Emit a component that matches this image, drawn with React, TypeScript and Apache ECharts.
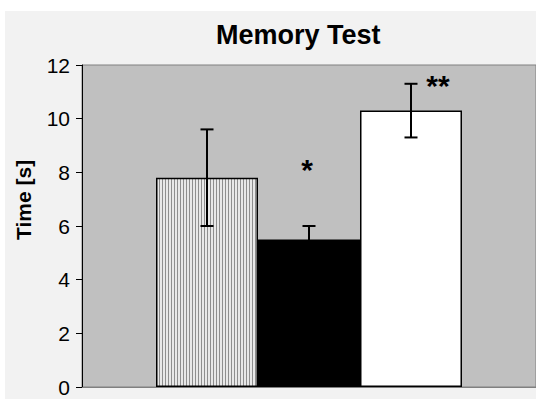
import React, { useEffect, useRef } from "react";
import * as echarts from "echarts";

const groups = ["Group A", "Group B", "Group C"];
const means = [7.8, 5.5, 10.3];
const errors = [1.8, 0.5, 1.0];
const significance = ["", "*", "**"];
const yTicks = { min: 0, max: 12, interval: 2 };
const titleText = "Memory Test";
const yAxisTitle = "Time [s]";

const FONT = "'Liberation Sans', Arial, sans-serif";

function makeStripe(): any {
  const c = document.createElement("canvas");
  c.width = 3;
  c.height = 3;
  const ctx = c.getContext("2d")!;
  ctx.fillStyle = "#e8e8e8";
  ctx.fillRect(0, 0, 3, 3);
  ctx.fillStyle = "#8e8e8e";
  ctx.fillRect(0, 0, 1, 3);
  return { image: c, repeat: "repeat", imageWidth: 3, imageHeight: 3 };
}

export default function App() {
  const ref = useRef<HTMLDivElement>(null);
  useEffect(() => {
    if (!ref.current) return;
    const chart = echarts.init(ref.current, undefined, { renderer: "svg" });
    const fills: any[] = [makeStripe(), "#000000", "#ffffff"];
    const starOffsets = [
      [0, 0],
      [-2, -57],
      [27, 2],
    ];
    const option: any = {
      animation: false,
      backgroundColor: "#ffffff",
      textStyle: { fontFamily: FONT },
      graphic: [
        {
          type: "rect",
          z: -10,
          silent: true,
          shape: { x: 5, y: 11, width: 540, height: 400 },
          style: { fill: "#f2f2f2" },
        },
        {
          type: "text",
          left: 216,
          top: 21,
          style: {
            text: titleText,
            font: `bold 27px ${FONT}`,
            fill: "#000",
          },
        },
        {
          type: "text",
          x: 13,
          y: 240,
          rotation: Math.PI / 2,
          style: {
            text: yAxisTitle,
            font: `bold 21px ${FONT}`,
            fill: "#000",
          },
        },
      ],
      grid: {
        left: 82,
        top: 65,
        right: 0,
        bottom: 12,
        show: true,
        backgroundColor: "#c0c0c0",
        borderColor: "#808080",
        borderWidth: 1,
      },
      xAxis: {
        type: "category",
        data: ["Memory"],
        axisLine: { show: true, lineStyle: { color: "#808080", width: 1 } },
        axisTick: { show: false },
        axisLabel: { show: false },
      },
      yAxis: {
        type: "value",
        min: yTicks.min,
        max: yTicks.max,
        interval: yTicks.interval,
        splitLine: { show: false },
        axisLine: { show: true, lineStyle: { color: "#000", width: 1 } },
        axisTick: { show: true, length: 6, lineStyle: { color: "#000", width: 1 } },
        axisLabel: { color: "#000", fontSize: 21, margin: 12, fontFamily: FONT },
      },
      series: [
        ...groups.map((g, i) => ({
          type: "bar",
          name: g,
          data: [means[i]],
          barGap: "0%",
          barCategoryGap: "32.6%",
          itemStyle: { color: fills[i], borderColor: "#000", borderWidth: 1.5 },
        })),
        {
          type: "custom",
          z: 10,
          data: means.map((m, i) => [0, m - errors[i], m + errors[i], m]),
          renderItem: (params: any, api: any) => {
            const idx = params.dataIndex;
            const band = api.size([1, 0])[0];
            const bw = (band * (1 - 0.326)) / 3;
            const center = api.coord([0, 0])[0] + (idx - 1) * bw;
            const lo = api.coord([0, api.value(1)])[1];
            const hi = api.coord([0, api.value(2)])[1];
            const cap = 6.5;
            const ls = { stroke: "#000", lineWidth: 2 };
            const children: any[] = [
              { type: "line", shape: { x1: center, y1: lo, x2: center, y2: hi }, style: ls },
              { type: "line", shape: { x1: center - cap, y1: lo, x2: center + cap, y2: lo }, style: ls },
              { type: "line", shape: { x1: center - cap, y1: hi, x2: center + cap, y2: hi }, style: ls },
            ];
            const star = significance[idx];
            if (star) {
              children.push({
                type: "text",
                x: center + starOffsets[idx][0],
                y: hi + starOffsets[idx][1],
                style: {
                  text: star,
                  font: `bold 30px ${FONT}`,
                  fill: "#000",
                  align: "center",
                  verticalAlign: "middle",
                },
              });
            }
            return { type: "group", children };
          },
        },
      ],
    };
    chart.setOption(option);
    return () => chart.dispose();
  }, []);
  return (
    <div
      ref={ref}
      style={{ position: "fixed", left: 0, top: 0, width: 536, height: 399 }}
    />
  );
}
